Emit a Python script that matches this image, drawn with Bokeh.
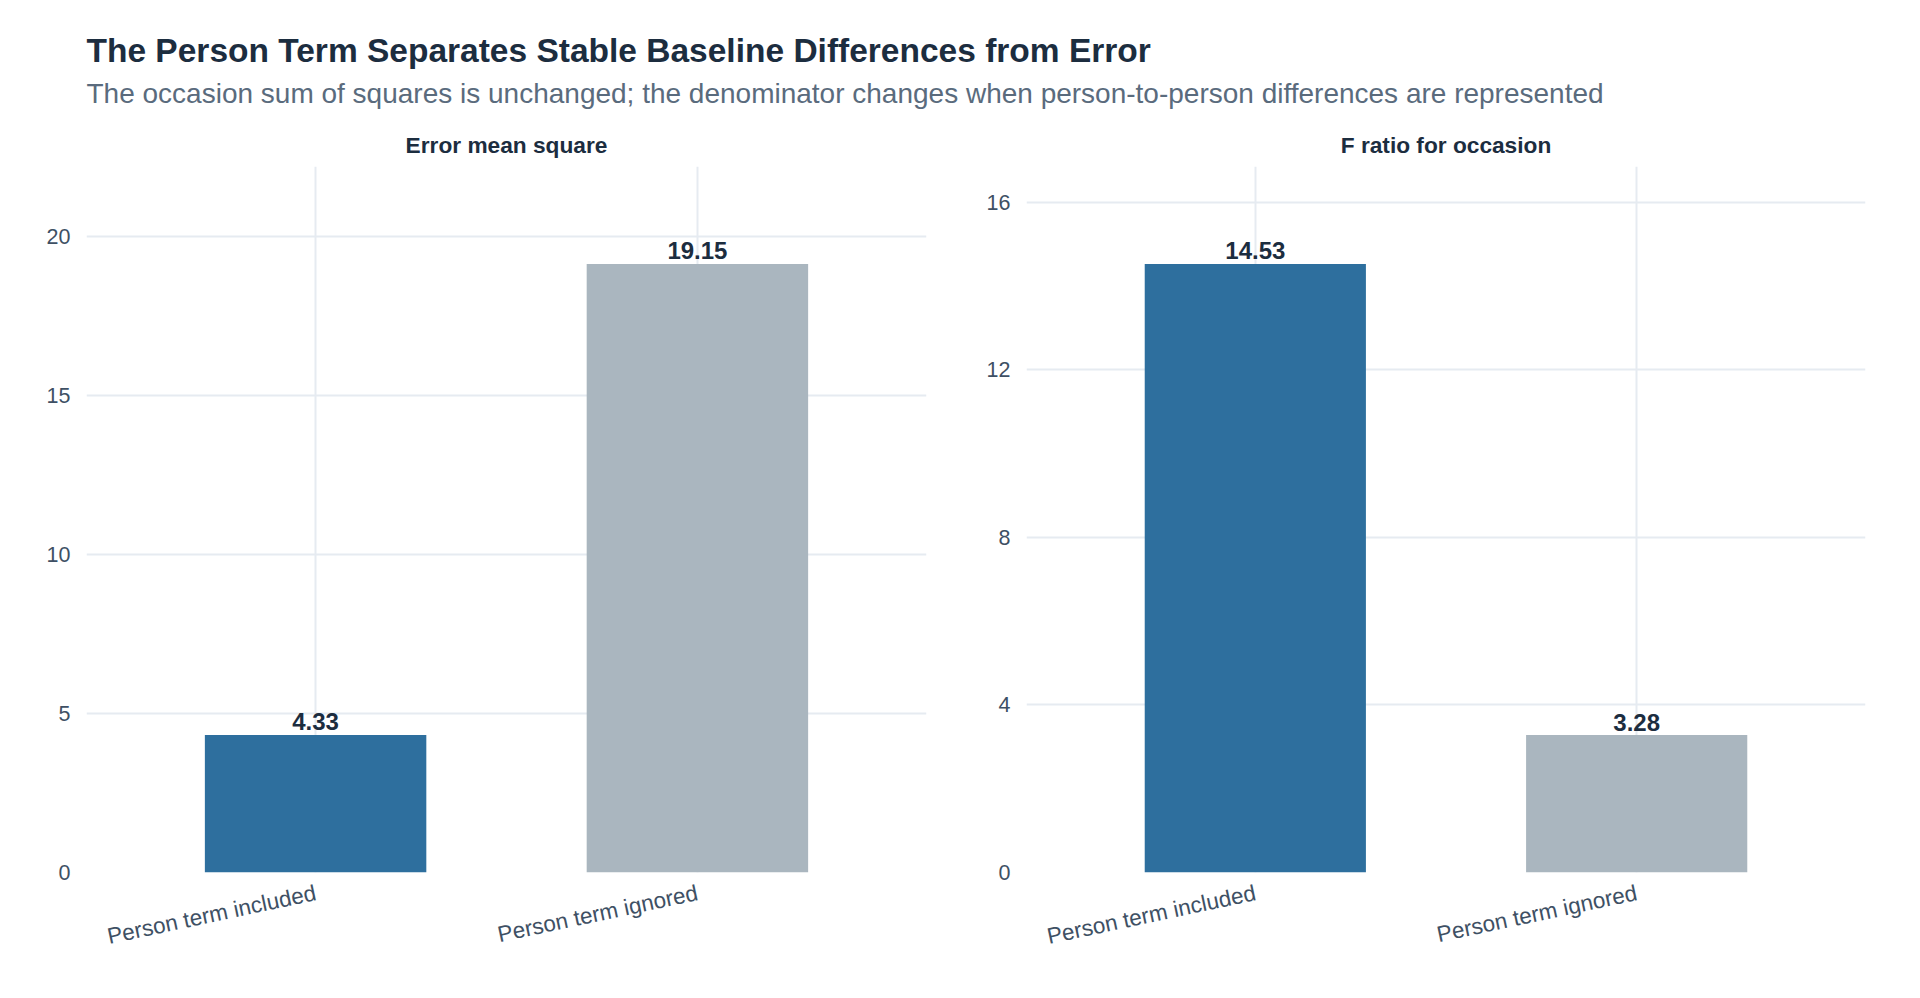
import math
from bokeh.plotting import figure
from bokeh.models import ColumnDataSource, Range1d, FactorRange, FixedTicker, Label, Title
from bokeh.layouts import column, row
from bokeh.embed import file_html
from bokeh.resources import INLINE

# ---- data ----
conditions = ["Person term included", "Person term ignored"]
error_mean_square = [4.33, 19.15]
f_ratio_occasion = [14.53, 3.28]
error_ticks = [0, 5, 10, 15, 20]
f_ticks = [0, 4, 8, 12, 16]

main_title = "The Person Term Separates Stable Baseline Differences from Error"
subtitle = ("The occasion sum of squares is unchanged; the denominator changes "
            "when person-to-person differences are represented")
panel_titles = ["Error mean square", "F ratio for occasion"]

# ---- style ----
FONT = "Liberation Sans"
bar_colors = ["#2E6F9E", "#AAB6BF"]
title_color = "#1C2D3F"
sub_color = "#5A6B7D"
tick_color = "#3E5064"
grid_color = "#E6EBF1"

W = 1904
HEADER_H = 120

header = figure(width=W, height=HEADER_H, x_range=Range1d(0, W), y_range=Range1d(HEADER_H, 0),
                x_axis_location=None, y_axis_location=None, toolbar_location=None,
                output_backend="svg", min_border=0, outline_line_color=None)
header.grid.visible = False
header.add_layout(Label(x=86, y=50, text=main_title, text_font=FONT, text_font_size="33.5px",
                        text_font_style="bold", text_color=title_color, text_baseline="middle"))
header.add_layout(Label(x=86, y=93, text=subtitle, text_font=FONT, text_font_size="28px",
                        text_color=sub_color, text_baseline="middle"))


def panel(values, ticks, title, width, border_left, border_right):
    top = max(values) * 1.16
    src = ColumnDataSource(dict(x=conditions, y=values, color=bar_colors,
                                label=[f"{v:.2f}" for v in values]))
    p = figure(width=width, height=852, x_range=FactorRange(*conditions, range_padding=0.1,
                                                            range_padding_units="absolute"),
               y_range=Range1d(0, top), toolbar_location=None, output_backend="svg",
               min_border_left=border_left, min_border_right=border_right,
               min_border_top=46, min_border_bottom=100, outline_line_color=None)
    p.title = Title(text=title, align="center", text_font=FONT, text_font_size="22.7px",
                    text_font_style="bold", text_color=title_color, standoff=17)
    p.vbar(x="x", top="y", width=0.58, color="color", source=src, line_color=None)
    p.text(x="x", y="y", text="label", source=src, text_align="center", text_baseline="alphabetic",
           y_offset=-13, text_font_size="24px", text_font_style="bold", text_color=title_color,
           text_font={"value": FONT})
    p.yaxis.ticker = FixedTicker(ticks=ticks)
    for ax in (p.xaxis[0], p.yaxis[0]):
        ax.axis_line_color = None
        ax.major_tick_line_color = None
        ax.minor_tick_line_color = None
        ax.major_label_text_font = FONT
        ax.major_label_text_color = tick_color
    p.yaxis.major_label_text_font_size = "21.5px"
    p.yaxis.major_label_standoff = 10
    p.xaxis.major_label_text_font_size = "22.5px"
    p.xaxis.major_label_orientation = math.radians(12)
    p.xaxis.major_label_standoff = 14
    p.xgrid.grid_line_color = grid_color
    p.ygrid.grid_line_color = grid_color
    p.xgrid.grid_line_width = 2
    p.ygrid.grid_line_width = 2
    return p


left = panel(error_mean_square, error_ticks, panel_titles[0], 960, 86, 34)
right = panel(f_ratio_occasion, f_ticks, panel_titles[1], 944, 66, 39)

layout = column(header, row(left, right, spacing=0), spacing=0)
open("out.html", "w").write(file_html(layout, INLINE))
